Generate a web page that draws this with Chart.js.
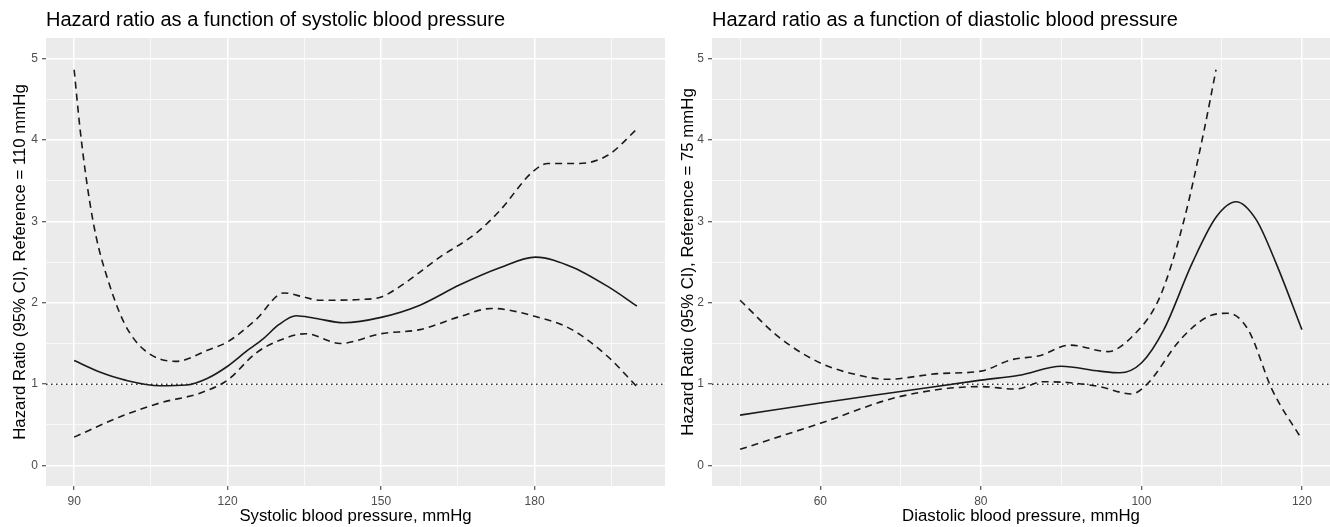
<!DOCTYPE html>
<html>
<head>
<meta charset="utf-8">
<script src="https://cdn.jsdelivr.net/npm/chart.js@4.4.1/dist/chart.umd.min.js"></script>
<style>
  html, body { margin: 0; padding: 0; background: #fff; }
  #wrap { display: flex; width: 1330px; height: 527px; }
  canvas { display: block; }
</style>
</head>
<body>
<div id="wrap">
  <canvas id="sys" width="665" height="527"></canvas>
  <canvas id="dia" width="665" height="527"></canvas>
</div>
<script>
// systolic panel: hazard ratio and 95% CI bounds
const sysHrX = [90, 95, 100, 106.8, 112, 116, 120, 124, 127, 130, 133.4, 137, 142.7, 150, 157.6, 165.4, 173.2, 180.2, 187.3, 194.3, 200];
const sysHrY = [1.29, 1.15, 1.05, 0.98, 0.99, 1.07, 1.22, 1.42, 1.56, 1.73, 1.84, 1.81, 1.755, 1.82, 1.97, 2.22, 2.43, 2.56, 2.44, 2.2, 1.96];
const sysUpX = [90, 91.2, 92.7, 94.3, 96.6, 99.8, 103.7, 109.9, 116.2, 120, 125.5, 131, 134.9, 138, 145.9, 150, 153.7, 161.5, 168.5, 173.2, 179.5, 182.6, 188.8, 194.3, 200];
const sysUpY = [4.86, 4.11, 3.38, 2.81, 2.28, 1.75, 1.42, 1.28, 1.42, 1.52, 1.79, 2.12, 2.07, 2.03, 2.04, 2.07, 2.2, 2.56, 2.85, 3.13, 3.6, 3.71, 3.71, 3.81, 4.13];
const sysLoX = [90, 99, 106.8, 114.6, 120, 125.5, 130.2, 135.3, 142, 150, 157.6, 165.4, 171.6, 180.2, 187.3, 194.3, 200];
const sysLoY = [0.35, 0.6, 0.77, 0.89, 1.05, 1.38, 1.54, 1.62, 1.5, 1.62, 1.67, 1.83, 1.93, 1.83, 1.67, 1.34, 0.97];

// diastolic panel
const diaHrX = [50, 60, 70, 80, 84.8, 90, 94.8, 97.3, 100, 102.8, 106.3, 109.3, 111.8, 114.3, 116.8, 120];
const diaHrY = [0.62, 0.77, 0.91, 1.05, 1.11, 1.22, 1.16, 1.14, 1.26, 1.67, 2.48, 3.05, 3.24, 3.02, 2.48, 1.67];
const diaUpX = [50, 54.8, 60, 64.8, 68.3, 74.8, 80, 83.8, 87.3, 91.1, 95.8, 98.8, 102.3, 105.3, 107.8, 109.3];
const diaUpY = [2.03, 1.58, 1.26, 1.11, 1.06, 1.13, 1.16, 1.3, 1.35, 1.48, 1.4, 1.58, 2.07, 3.01, 4.11, 4.86];
const diaLoX = [50, 60, 70, 80, 84.3, 87.8, 90.8, 94.8, 98.8, 100.8, 104.8, 108.3, 110.8, 113.3, 116.3, 120];
const diaLoY = [0.2, 0.52, 0.85, 0.97, 0.94, 1.03, 1.02, 0.97, 0.88, 1.01, 1.54, 1.83, 1.87, 1.67, 0.93, 0.32];

// ticks
const sysMajor = [90, 120, 150, 180];
const sysMinor = [105, 135, 165, 195];
const diaMajor = [60, 80, 100, 120];
const diaMinor = [50, 70, 90, 110];
const yMajor = [0, 1, 2, 3, 4, 5];
const yMinor = [0.5, 1.5, 2.5, 3.5, 4.5];
const refHR = 1;

const FONT = '"Liberation Sans", Arial, Helvetica, sans-serif';

const panelBg = {
  id: 'panelBg',
  beforeDraw(chart) {
    const a = chart.chartArea, c = chart.ctx;
    c.save();
    c.fillStyle = '#ebebeb';
    c.fillRect(a.left, a.top, a.right - a.left, a.bottom - a.top);
    c.restore();
  }
};

function pts(xs, ys) {
  return xs.map((x, i) => ({ x: x, y: ys[i] }));
}

function curve(xs, ys, dash) {
  return {
    data: pts(xs, ys),
    showLine: true,
    borderColor: '#1a1a1a',
    borderWidth: 1.6,
    borderDash: dash,
    pointRadius: 0,
    cubicInterpolationMode: 'monotone'
  };
}

function makeChart(id, o) {
  const xAll = o.major.concat(o.minor).sort((a, b) => a - b);
  const yAll = yMajor.concat(yMinor).sort((a, b) => a - b);
  return new Chart(document.getElementById(id), {
    type: 'scatter',
    data: {
      datasets: [
        curve(o.hrX, o.hrY, []),
        curve(o.upX, o.upY, [7, 5]),
        curve(o.loX, o.loY, [7, 5]),
        {
          data: [{ x: o.xMin, y: refHR }, { x: o.xMax, y: refHR }],
          showLine: true,
          borderColor: '#333',
          borderWidth: 1.5,
          borderDash: [1.5, 3.5],
          pointRadius: 0
        }
      ]
    },
    options: {
      responsive: false,
      animation: false,
      devicePixelRatio: 1,
      layout: { padding: { left: o.padLeft, right: 0, top: 0, bottom: 0 } },
      plugins: {
        legend: { display: false },
        tooltip: { enabled: false },
        title: {
          display: true,
          text: o.title,
          align: 'start',
          fullSize: false,
          color: '#000',
          font: { family: FONT, size: 20, weight: 'normal' },
          padding: { top: 8, bottom: 6 }
        }
      },
      scales: {
        x: {
          type: 'linear',
          min: o.xMin,
          max: o.xMax,
          afterBuildTicks: s => { s.ticks = xAll.map(v => ({ value: v })); },
          afterFit: s => { s.height = 41; },
          border: { display: false },
          grid: {
            color: '#fff',
            lineWidth: c => o.major.includes(c.tick.value) ? 1.5 : 0.7,
            tickLength: 4,
            tickWidth: 1,
            tickColor: c => o.major.includes(c.tick.value) ? '#333' : 'rgba(0,0,0,0)'
          },
          ticks: {
            color: '#4d4d4d',
            font: { family: FONT, size: 12 },
            padding: 4,
            maxRotation: 0,
            autoSkip: false,
            callback: v => o.major.includes(v) ? String(v) : ''
          },
          title: {
            display: true,
            text: o.xTitle,
            color: '#000',
            font: { family: FONT, size: 16.8 },
            padding: { top: 0, bottom: 1 }
          }
        },
        y: {
          type: 'linear',
          min: -0.25,
          max: 5.25,
          afterBuildTicks: s => { s.ticks = yAll.map(v => ({ value: v })); },
          afterFit: s => { s.width = o.yWidth; },
          border: { display: false },
          grid: {
            color: '#fff',
            lineWidth: c => yMajor.includes(c.tick.value) ? 1.5 : 0.7,
            tickLength: 4,
            tickWidth: 1,
            tickColor: c => yMajor.includes(c.tick.value) ? '#333' : 'rgba(0,0,0,0)'
          },
          ticks: {
            color: '#4d4d4d',
            font: { family: FONT, size: 12 },
            padding: 4,
            autoSkip: false,
            callback: v => yMajor.includes(v) ? String(v) : ''
          },
          title: {
            display: true,
            text: o.yTitle,
            color: '#000',
            font: { family: FONT, size: 16.8, lineHeight: 1 },
            padding: { top: 0, bottom: 0 }
          }
        }
      }
    },
    plugins: [panelBg]
  });
}

makeChart('sys', {
  title: 'Hazard ratio as a function of systolic blood pressure',
  xTitle: 'Systolic blood pressure, mmHg',
  yTitle: 'Hazard Ratio (95% CI), Reference = 110 mmHg',
  xMin: 84.5, xMax: 205.5,
  major: sysMajor, minor: sysMinor,
  padLeft: 12, yWidth: 34,
  hrX: sysHrX, hrY: sysHrY, upX: sysUpX, upY: sysUpY, loX: sysLoX, loY: sysLoY
});

makeChart('dia', {
  title: 'Hazard ratio as a function of diastolic blood pressure',
  xTitle: 'Diastolic blood pressure, mmHg',
  yTitle: 'Hazard Ratio (95% CI), Reference = 75 mmHg',
  xMin: 46.5, xMax: 123.5,
  major: diaMajor, minor: diaMinor,
  padLeft: 15, yWidth: 32,
  hrX: diaHrX, hrY: diaHrY, upX: diaUpX, upY: diaUpY, loX: diaLoX, loY: diaLoY
});
</script>
</body>
</html>
